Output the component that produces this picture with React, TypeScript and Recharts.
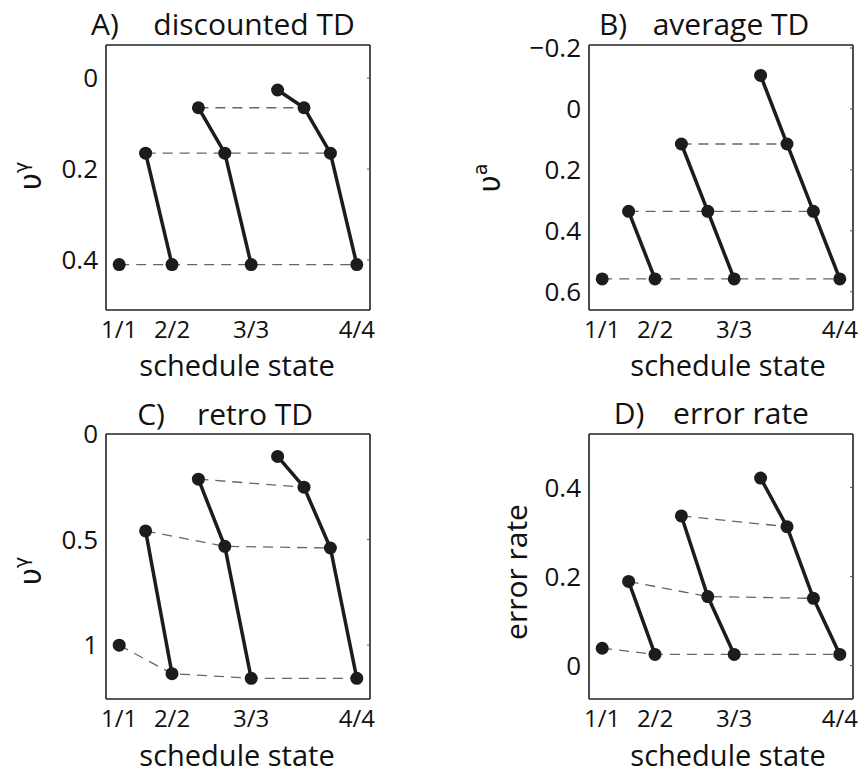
import { ScatterChart, Scatter, XAxis, YAxis } from "recharts";

// schedule states, in order along the x axis
const states = ["1/1", "1/2", "2/2", "1/3", "2/3", "3/3", "1/4", "2/4", "3/4", "4/4"];
const xTicks = [0, 2, 5, 9];

// values, one per schedule state
const discountedTD = [0.41, 0.165, 0.41, 0.065, 0.165, 0.41, 0.026, 0.065, 0.165, 0.41];
const averageTD = [0.558, 0.336, 0.558, 0.115, 0.336, 0.558, -0.11, 0.115, 0.336, 0.558];
const retroTD = [1.0, 0.459, 1.135, 0.214, 0.532, 1.157, 0.106, 0.252, 0.54, 1.157];
const errorRate = [0.039, 0.189, 0.025, 0.336, 0.155, 0.025, 0.421, 0.312, 0.151, 0.025];

// solid: within one schedule; dashed: same distance from the end
const solidGroups = [[1, 2], [3, 4, 5], [6, 7, 8, 9]];
const dashedGroups = [[0, 2, 5, 9], [1, 4, 8], [3, 7]];

const FONT = "'Open Sans', sans-serif";
const GREEK = "'DejaVu Sans', sans-serif";
const INK = "#111";

const pts = (vals: number[], idx: number[]) => idx.map((i) => ({ x: i, y: vals[i] }));

const fmtY = (v: number) => (v < 0 ? `\u2212${Math.abs(v)}` : `${v}`);

const noDot = () => <g />;
const dot = (p: any) => <circle cx={p.cx} cy={p.cy} r={6.5} fill="#1c1c1c" />;

type PanelProps = {
  left: number;
  top: number;
  values: number[];
  yDomain: [number, number];
  yTicks: number[];
  reversed?: boolean;
  leftW: number;
  rightM: number;
};

function Panel({ left, top, values, yDomain, yTicks, reversed, leftW, rightM }: PanelProps) {
  const frame = { stroke: "#222", strokeWidth: 1.6 };
  return (
    <div style={{ position: "absolute", left, top }}>
      <ScatterChart width={433} height={389} margin={{ top: 45, right: rightM, bottom: 0, left: 0 }}>
        <XAxis
          type="number"
          dataKey="x"
          domain={[-0.5, 9.5]}
          ticks={xTicks}
          interval={0}
          allowDataOverflow
          tickFormatter={(v: any) => states[v]}
          axisLine={frame}
          tickLine={false}
          tickSize={0}
          tickMargin={11}
          height={79}
          tick={{ fontSize: 24, fill: INK, fontFamily: FONT }}
        />
        <XAxis
          xAxisId="top"
          orientation="top"
          type="number"
          domain={[-0.5, 9.5]}
          ticks={xTicks}
          allowDataOverflow
          mirror
          tickSize={3}
          tickFormatter={() => ""}
          axisLine={frame}
          tickLine={{ stroke: "#555" }}
          height={1}
        />
        <YAxis
          type="number"
          dataKey="y"
          domain={yDomain}
          ticks={yTicks}
          interval={0}
          reversed={reversed}
          allowDataOverflow
          tickFormatter={fmtY}
          axisLine={frame}
          tickLine={false}
          tickSize={0}
          tickMargin={8}
          width={leftW}
          tick={{ fontSize: 26, fill: INK, fontFamily: FONT }}
        />
        <YAxis
          yAxisId="right"
          orientation="right"
          type="number"
          domain={yDomain}
          ticks={yTicks}
          reversed={reversed}
          allowDataOverflow
          mirror
          tickSize={3}
          tickFormatter={() => ""}
          axisLine={frame}
          tickLine={{ stroke: "#555" }}
          width={1}
        />
        {dashedGroups.map((g, i) => (
          <Scatter
            key={`d${i}`}
            data={pts(values, g)}
            line={{ stroke: "#666", strokeWidth: 1.3, strokeDasharray: "10 7" }}
            lineType="joint"
            shape={noDot}
            isAnimationActive={false}
          />
        ))}
        {solidGroups.map((g, i) => (
          <Scatter
            key={`s${i}`}
            data={pts(values, g)}
            line={{ stroke: "#1c1c1c", strokeWidth: 3.5 }}
            lineType="joint"
            shape={noDot}
            isAnimationActive={false}
          />
        ))}
        <Scatter data={pts(values, states.map((_, i) => i))} shape={dot} isAnimationActive={false} />
      </ScatterChart>
    </div>
  );
}

function Upsilon({ x, y, sup }: { x: number; y: number; sup: string }) {
  return (
    <text x={x} y={y} transform={`rotate(-90 ${x} ${y})`} textAnchor="middle" fontSize={30} fill={INK} fontFamily={GREEK}>
      <tspan>{"\u03c5"}</tspan>
      <tspan dy={-13} fontSize={19}>{sup}</tspan>
    </text>
  );
}

export default function App() {
  const t = { fontSize: 30, fill: INK, fontFamily: FONT, textAnchor: "middle" as const };
  const s = { ...t, fontSize: 29 };
  return (
    <div style={{ position: "absolute", left: 0, top: 0, width: 866, height: 778, background: "#fff" }}>
      <Panel left={0} top={0} values={discountedTD} yDomain={[-0.073, 0.51]} yTicks={[0, 0.2, 0.4]} reversed leftW={106} rightM={63} />
      <Panel left={433} top={0} values={averageTD} yDomain={[-0.21, 0.66]} yTicks={[-0.2, 0, 0.2, 0.4, 0.6]} reversed leftW={156} rightM={13} />
      <Panel left={0} top={389} values={retroTD} yDomain={[0, 1.255]} yTicks={[0, 0.5, 1]} reversed leftW={106} rightM={63} />
      <Panel left={433} top={389} values={errorRate} yDomain={[-0.075, 0.52]} yTicks={[0, 0.2, 0.4]} leftW={156} rightM={13} />
      <svg width={866} height={778} style={{ position: "absolute", left: 0, top: 0, pointerEvents: "none" }}>
        <text x={105} y={35} {...t}>A)</text>
        <text x={254} y={35} {...t}>discounted TD</text>
        <text x={613} y={35} {...t}>B)</text>
        <text x={731} y={35} {...t}>average TD</text>
        <text x={151} y={425} {...t}>C)</text>
        <text x={255} y={425} {...t}>retro TD</text>
        <text x={629} y={424} {...t}>D)</text>
        <text x={741} y={424} {...t}>error rate</text>

        <text x={237} y={376} {...s}>schedule state</text>
        <text x={728} y={376} {...s}>schedule state</text>
        <text x={237} y={766} {...s}>schedule state</text>
        <text x={728} y={766} {...s}>schedule state</text>

        <Upsilon x={41} y={176} sup={"\u03b3"} />
        <Upsilon x={500} y={178} sup="a" />
        <Upsilon x={41} y={571} sup={"\u03b3"} />
        <text x={527} y={572} transform="rotate(-90 527 572)" {...t}>error rate</text>
      </svg>
    </div>
  );
}
